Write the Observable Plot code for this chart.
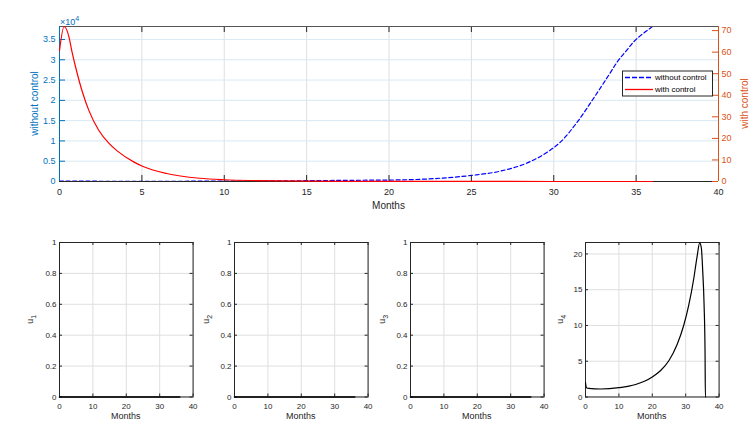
<!DOCTYPE html>
<html><head><meta charset="utf-8">
<script src="https://cdn.jsdelivr.net/npm/d3@7"></script>
<script src="https://cdn.jsdelivr.net/npm/@observablehq/plot@0.6"></script>
<style>
body{margin:0;background:#fff;}
#root{position:relative;width:753px;height:432px;overflow:hidden;font-family:"Liberation Sans",Arial,Helvetica,sans-serif;background:#fff;}
#root svg{position:absolute;overflow:visible;}
</style></head><body><div id="root"></div>
<script>
// ---------- data ----------
const blueMonths = [0, 5, 10, 15, 18, 20.7, 22.7, 25, 26.7, 28.4, 29.6, 30.4, 31.4, 32.4, 33.4, 33.86, 34.4, 34.87, 35.5, 36];
const withoutControl = [100, 50, 100, 200, 300, 400, 700, 1500, 2500, 4600, 7200, 9700, 14500, 20400, 26600, 29500, 32200, 34500, 36700, 38200];
const redMonths = [0, 0.28, 0.58, 0.75, 0.98, 1.39, 1.78, 2.38, 2.99, 3.5, 4.5, 5, 6.5, 8.5, 10, 12, 15, 20, 25, 30, 36];
const withControl = [60.7, 71.9, 66.9, 60.5, 53, 41.5, 33.0, 23.8, 17.8, 14.2, 9.1, 7.2, 3.7, 1.5, 0.8, 0.4, 0.15, 0.05, 0.02, 0.01, 0.01];
const uZeroMonths = [0, 36];
const u1 = [0, 0], u2 = [0, 0], u3 = [0, 0];
const u4Months = [0, 0.3, 1, 4.5, 10, 15, 20, 22.5, 25, 27.4, 29.4, 30.9, 32.4, 33.4, 34.2, 34.7, 35.1, 35.5, 35.8, 35.9, 36];
const u4 = [2.0, 1.3, 1.2, 1.12, 1.3, 1.75, 2.8, 3.7, 5.1, 7.3, 10.0, 12.8, 16.5, 19.6, 21.55, 20.8, 17.6, 13, 6, 0, 0];

const topXTicks = [0, 5, 10, 15, 20, 25, 30, 35, 40];
const leftTicks = [0, 5000, 10000, 15000, 20000, 25000, 30000, 35000];
const rightTicks = [0, 10, 20, 30, 40, 50, 60, 70];
const leftMax = 38200, rightMax = 71.9;
const botXTicks = [0, 10, 20, 30, 40];
const unitTicks = [0, 0.2, 0.4, 0.6, 0.8, 1];
const u4Ticks = [0, 5, 10, 15, 20];
const u4Max = 21.6;
const legendNames = ["without control", "with control"];

// ---------- styles ----------
const FONT = '"Liberation Sans", Arial, Helvetica, sans-serif';
const BLUE_AX = "#0072BD", ORANGE_AX = "#D95319", DARK = "#262626";
const root = document.getElementById("root");

// ---------- top plot ----------
const W = 753, H = 215, mL = 59, mR = 35, mT = 26, mB = 34;
const fW = W - mL - mR, fH = H - mT - mB;
const blueData = blueMonths.map((m, i) => ({m, v: withoutControl[i]}));
const redData = redMonths.map((m, i) => ({m, v: withControl[i]}));

const topLeft = Plot.plot({
  width: W, height: H, marginLeft: mL, marginRight: mR, marginTop: mT, marginBottom: mB,
  style: {background: "transparent", fontFamily: FONT, fontSize: "9px"},
  x: {domain: [0, 40]},
  y: {domain: [0, leftMax]},
  marks: [
    Plot.gridX(topXTicks, {stroke: "#dfdfdf", strokeOpacity: 1}),
    Plot.gridY(leftTicks, {stroke: "#d9e9f5", strokeOpacity: 1}),
    Plot.line(blueData, {x: "m", y: "v", stroke: "#0000ff", strokeWidth: 1.2, strokeDasharray: "4,2.6", curve: "monotone-x"}),
    Plot.tickX(topXTicks, {x: d => d, insetTop: fH - 6, stroke: DARK}),
    Plot.tickX(topXTicks, {x: d => d, insetBottom: fH - 6, stroke: DARK}),
    Plot.tickY(leftTicks, {y: d => d, insetRight: fW - 6, stroke: BLUE_AX}),
    Plot.ruleY([0], {stroke: DARK}),
    Plot.ruleY([leftMax], {stroke: "#555"}),
    Plot.ruleX([0], {stroke: BLUE_AX}),
    Plot.axisY({ticks: leftTicks, tickSize: 0, tickPadding: 4, tickFormat: d => String(d / 1e4), color: BLUE_AX, label: null}),
    Plot.axisX({ticks: topXTicks, tickSize: 0, tickPadding: 7, tickFormat: d => String(d), color: DARK, label: null})
  ]
});
topLeft.style.left = "0px"; topLeft.style.top = "0px";
root.appendChild(topLeft);

const topRight = Plot.plot({
  width: W, height: H, marginLeft: mL, marginRight: mR, marginTop: mT, marginBottom: mB,
  style: {background: "transparent", fontFamily: FONT, fontSize: "9px"},
  x: {domain: [0, 40], axis: null},
  y: {domain: [0, rightMax]},
  marks: [
    Plot.line(redData, {x: "m", y: "v", stroke: "#ff0000", strokeWidth: 1.2, curve: "monotone-x"}),
    Plot.tickY(rightTicks, {y: d => d, insetLeft: fW - 6, stroke: ORANGE_AX}),
    Plot.ruleX([40], {stroke: ORANGE_AX}),
    Plot.axisY({anchor: "right", ticks: rightTicks, tickSize: 0, tickPadding: 3, tickFormat: d => String(d), color: ORANGE_AX, label: null})
  ]
});
topRight.style.left = "0px"; topRight.style.top = "0px";
root.appendChild(topRight);

// labels for the top plot
{
  const s = d3.select(topRight);
  s.append("text").attr("transform", `translate(34,${mT + fH / 2}) rotate(-90)`)
    .attr("text-anchor", "middle").attr("dominant-baseline", "central")
    .attr("fill", BLUE_AX).attr("font-size", 10).attr("font-family", FONT).text("without control");
  s.append("text").attr("transform", `translate(744,${mT + fH / 2}) rotate(-90)`)
    .attr("text-anchor", "middle").attr("dominant-baseline", "central")
    .attr("fill", ORANGE_AX).attr("font-size", 10).attr("font-family", FONT).text("with control");
  s.append("text").attr("x", mL + fW / 2).attr("y", 209)
    .attr("text-anchor", "middle").attr("fill", DARK).attr("font-size", 10).attr("font-family", FONT).text("Months");
  const e = s.append("text").attr("x", 60).attr("y", 24.5).attr("fill", BLUE_AX)
    .attr("text-anchor", "start").attr("font-size", 9).attr("font-family", FONT);
  e.append("tspan").text("\u00d710");
  e.append("tspan").attr("dy", -4).attr("font-size", 7).text("4");

  // legend
  const lg = s.append("g").attr("font-family", FONT).attr("font-size", 8).attr("text-anchor", "start");
  lg.append("rect").attr("x", 622.5).attr("y", 71).attr("width", 90).attr("height", 25)
    .attr("fill", "#fff").attr("stroke", DARK).attr("stroke-width", 1);
  const styles = [{stroke: "#0000ff", dash: "5,2"}, {stroke: "#ff0000", dash: null}];
  legendNames.forEach((name, i) => {
    const y = 77.5 + i * 12;
    lg.append("line").attr("x1", 625).attr("x2", 653).attr("y1", y).attr("y2", y)
      .attr("stroke", styles[i].stroke).attr("stroke-width", 1.3).attr("stroke-dasharray", styles[i].dash);
    lg.append("text").attr("x", 655).attr("y", y).attr("fill", "#000").attr("text-anchor", "start")
      .attr("dominant-baseline", "central").text(name);
  });
}

// ---------- bottom panels ----------
const panelLefts = [58.7, 234.3, 410, 585];
const pW = 133.6, pTop = 241.5, pH = 154.5;
const pmL = 40, pmR = 10, pmT = 10, pmB = 40;
const panels = [
  {months: uZeroMonths, vals: u1, ticks: unitTicks, max: 1, sub: "1", labOff: 26, sw: 1.6},
  {months: uZeroMonths, vals: u2, ticks: unitTicks, max: 1, sub: "2", labOff: 25, sw: 1.6},
  {months: uZeroMonths, vals: u3, ticks: unitTicks, max: 1, sub: "3", labOff: 25, sw: 1.6},
  {months: u4Months, vals: u4, ticks: u4Ticks, max: u4Max, sub: "4", labOff: 22, sw: 1.2}
];
panels.forEach((p, i) => {
  const data = p.months.map((m, j) => ({m, v: p.vals[j]}));
  const svg = Plot.plot({
    width: pW + pmL + pmR, height: pH + pmT + pmB,
    marginLeft: pmL, marginRight: pmR, marginTop: pmT, marginBottom: pmB,
    style: {background: "transparent", fontFamily: FONT, fontSize: "8px"},
    x: {domain: [0, 40]},
    y: {domain: [0, p.max]},
    marks: [
      Plot.gridX(botXTicks, {stroke: "#dfdfdf", strokeOpacity: 1}),
      Plot.gridY(p.ticks, {stroke: "#dfdfdf", strokeOpacity: 1}),
      Plot.frame({stroke: DARK, strokeWidth: 1}),
      Plot.tickX(botXTicks, {x: d => d, insetTop: pH - 3, stroke: DARK}),
      Plot.tickX(botXTicks, {x: d => d, insetBottom: pH - 3, stroke: DARK}),
      Plot.tickY(p.ticks, {y: d => d, insetRight: pW - 3, stroke: DARK}),
      Plot.tickY(p.ticks, {y: d => d, insetLeft: pW - 3, stroke: DARK}),
      Plot.line(data, {x: "m", y: "v", stroke: "#000", strokeWidth: p.sw, curve: "monotone-x"}),
      Plot.axisY({ticks: p.ticks, tickSize: 0, tickPadding: 3, tickFormat: d => String(d), color: DARK, label: null}),
      Plot.axisX({ticks: botXTicks, tickSize: 0, tickPadding: 6, tickFormat: d => String(d), color: DARK, label: null})
    ]
  });
  svg.style.left = (panelLefts[i] - pmL) + "px";
  svg.style.top = (pTop - pmT) + "px";
  root.appendChild(svg);
  const s = d3.select(svg);
  s.append("text").attr("x", pmL + pW / 2).attr("y", pmT + pH + 23)
    .attr("text-anchor", "middle").attr("fill", DARK).attr("font-size", 9).attr("font-family", FONT).text("Months");
  const t = s.append("text").attr("transform", `translate(${pmL - p.labOff},${pmT + pH / 2}) rotate(-90)`)
    .attr("text-anchor", "middle").attr("fill", DARK).attr("font-size", 9).attr("font-family", FONT);
  t.append("tspan").text("u");
  t.append("tspan").attr("dy", 3).attr("font-size", 7).text(p.sub);
});
</script></body></html>
